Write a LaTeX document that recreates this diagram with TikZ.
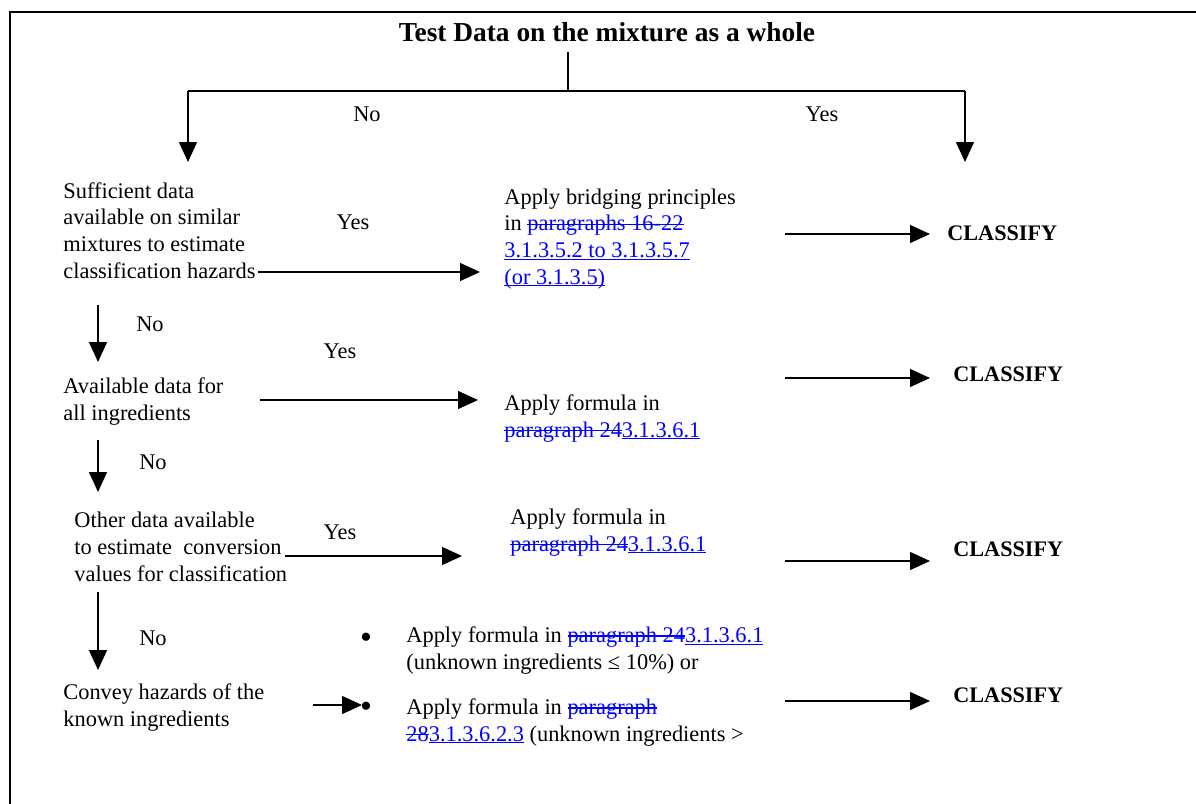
\documentclass[tikz,border=0pt]{standalone}
\usepackage{fontspec}
\setmainfont{Liberation Serif}
\usetikzlibrary{arrows.meta}
\definecolor{rev}{RGB}{0,0,255}
\newsavebox{\revbox}
\newcommand{\strk}[1]{{\color{rev}\sbox{\revbox}{#1}\rlap{\rule[0.25em]{\wd\revbox}{0.7pt}}\usebox{\revbox}}}
\newcommand{\insr}[1]{{\color{rev}\sbox{\revbox}{#1}\rlap{\rule[-1.2pt]{\wd\revbox}{0.6pt}}\usebox{\revbox}}}
\tikzset{
  txt/.style={font=\fontsize{11.2pt}{13.3pt}\selectfont, inner sep=0pt, align=left, anchor=base west},
  lbl/.style={font=\fontsize{11.2pt}{13.3pt}\selectfont, inner sep=0pt, anchor=base},
  bul/.style={font=\fontsize{17pt}{18pt}\selectfont, inner sep=0pt, anchor=base},
  cls/.style={font=\fontsize{11.1pt}{13.3pt}\selectfont\bfseries, inner sep=0pt, anchor=base west},
  arr/.style={line width=0.65pt, -{Triangle[length=10pt,width=9pt]}},
  ln/.style={line width=0.65pt},
  frame/.style={line width=0.8pt}
}
\begin{document}
\begin{tikzpicture}[x=0.5pt,y=-0.5pt]
\useasboundingbox (0,0) rectangle (1196,804);
% frame
\coordinate (fbl) at (10,804);
\coordinate (ftl) at (10,12);
\coordinate (ftr) at (1196,12);
\draw[frame] (fbl) -- (ftl) -- (ftr);
% title
\node[font=\fontsize{13.7pt}{16pt}\selectfont\bfseries, inner sep=0pt, anchor=base] (title) at (607,41) {Test Data on the mixture as a whole};
\coordinate (t0) at (568,52);
\coordinate (t1) at (568,91);
\coordinate (tl) at (188,91);
\coordinate (tr) at (965,91);
\coordinate (tle) at (188,162);
\coordinate (tre) at (965,162);
\draw[ln] (t0) -- (t1);
\draw[line width=1pt] (tl) -- (tr);
\draw[arr] (tl) -- (tle);
\draw[arr] (tr) -- (tre);
\node[lbl] (no0) at (367,121) {No};
\node[lbl] (yes0) at (822,121) {Yes};
% row 1 (anchor = baseline of the LAST line)
\node[txt] (b1) at (63,278) {Sufficient data\\available on similar\\mixtures to estimate\\classification hazards};
\node[lbl] (yes1) at (353,229) {Yes};
\node[txt] (m1) at (504,284) {Apply bridging principles\\in \strk{paragraphs 16-22}\\\insr{3.1.3.5.2 to 3.1.3.5.7}\\\insr{(or 3.1.3.5)}};
\coordinate (a1s) at (258,272);
\coordinate (a1e) at (480,272);
\draw[arr] (a1s) -- (a1e);
\coordinate (c1s) at (785,234);
\coordinate (c1e) at (930,234);
\draw[arr] (c1s) -- (c1e);
\node[cls] (cl1) at (947,240) {CLASSIFY};
% down 1
\coordinate (d1s) at (98,305);
\coordinate (d1e) at (98,362);
\draw[arr] (d1s) -- (d1e);
\node[lbl] (no1) at (150,331) {No};
% row 2
\node[lbl] (yes2) at (340,358) {Yes};
\node[txt] (b2) at (63,420) {Available data for\\all ingredients};
\coordinate (a2s) at (260,400);
\coordinate (a2e) at (478,400);
\draw[arr] (a2s) -- (a2e);
\node[txt] (m2) at (504,437) {Apply formula in\\\strk{paragraph 24}\insr{3.1.3.6.1}};
\coordinate (c2s) at (785,378);
\coordinate (c2e) at (930,378);
\draw[arr] (c2s) -- (c2e);
\node[cls] (cl2) at (953,381) {CLASSIFY};
% down 2
\coordinate (d2s) at (98,440);
\coordinate (d2e) at (98,492);
\draw[arr] (d2s) -- (d2e);
\node[lbl] (no2) at (153,469) {No};
% row 3
\node[txt] (b3) at (74,581) {Other data available\\to estimate\ \ conversion\\values for classification};
\node[lbl] (yes3) at (340,539) {Yes};
\coordinate (a3s) at (285,556);
\coordinate (a3e) at (462,556);
\draw[arr] (a3s) -- (a3e);
\node[txt] (m3) at (510,551) {Apply formula in\\\strk{paragraph 24}\insr{3.1.3.6.1}};
\coordinate (c3s) at (785,561);
\coordinate (c3e) at (930,561);
\draw[arr] (c3s) -- (c3e);
\node[cls] (cl3) at (953,556) {CLASSIFY};
% down 3
\coordinate (d3s) at (98,592);
\coordinate (d3e) at (98,670);
\draw[arr] (d3s) -- (d3e);
\node[lbl] (no3) at (153,645) {No};
% row 4
\node[txt] (b4) at (63,726) {Convey hazards of the\\known ingredients};
\node[bul] (bu1) at (366,648) {\textbullet};
\node[bul] (bu2) at (366,717) {\textbullet};
\node[txt] (m4a) at (406,669) {Apply formula in \strk{paragraph 24}\insr{3.1.3.6.1}\\(unknown ingredients ≤ 10\%) or};
\node[txt] (m4b) at (406,741) {Apply formula in \strk{paragraph}\\\strk{28}\insr{3.1.3.6.2.3} (unknown ingredients >};
\coordinate (a4s) at (313,705);
\coordinate (a4e) at (362,705);
\draw[arr] (a4s) -- (a4e);
\coordinate (c4s) at (785,701);
\coordinate (c4e) at (930,701);
\draw[arr] (c4s) -- (c4e);
\node[cls] (cl4) at (953,702) {CLASSIFY};
\end{tikzpicture}
\end{document}
